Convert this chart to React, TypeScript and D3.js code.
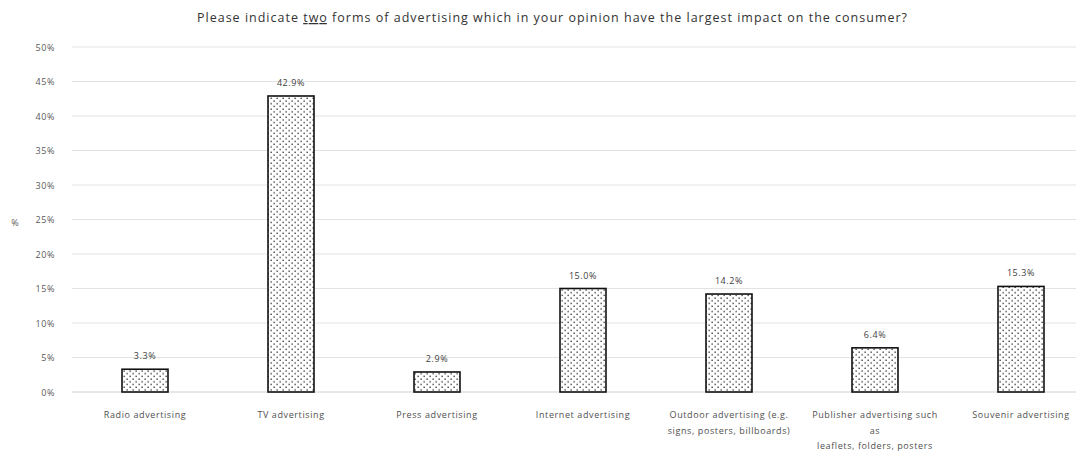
import React from "react";
import * as d3 from "d3";

const categories: string[][] = [
  ["Radio advertising"],
  ["TV advertising"],
  ["Press advertising"],
  ["Internet advertising"],
  ["Outdoor advertising (e.g.", "signs, posters, billboards)"],
  ["Publisher advertising such", "as", "leaflets, folders, posters"],
  ["Souvenir advertising"],
];
const values: number[] = [3.3, 42.9, 2.9, 15.0, 14.2, 6.4, 15.3];
const yTicks: number[] = [0, 5, 10, 15, 20, 25, 30, 35, 40, 45, 50];
const titleParts: string[] = ["Please indicate ", "two", " forms of advertising which in your opinion  have the largest impact  on the consumer?"];

export default function App() {
  const W = 1086, H = 452;
  const x0 = 72, x1 = 1094, gridEnd = 1076;
  const y = d3.scaleLinear().domain([0, 50]).range([392, 47]);
  const x = d3.scaleBand<number>().domain(values.map((_, i) => i)).range([x0, x1]).paddingInner(0.685).paddingOuter(0.3425);
  const font = "'Open Sans', 'Liberation Sans', sans-serif";
  const ls = 0.6;
  return (
    <svg width={W} height={H} style={{ position: "absolute", left: 0, top: 0, background: "#fff" }}>
      <defs>
        <pattern id="dots" width={6} height={5.4} patternUnits="userSpaceOnUse">
          <rect width={6} height={5.4} fill="#fff" />
          <rect x={0.5} y={0.5} width={1.3} height={1.3} fill="#2a2a2a" />
          <rect x={3.5} y={3.2} width={1.3} height={1.3} fill="#2a2a2a" />
        </pattern>
      </defs>
      <text x={197} y={22} textLength={710} lengthAdjust="spacing" fontFamily={font} fontSize={12.5} fontWeight={500} fill="#333">
        <tspan>{titleParts[0]}</tspan>
        <tspan textDecoration="underline">{titleParts[1]}</tspan>
        <tspan>{titleParts[2]}</tspan>
      </text>
      {yTicks.map((t) => (
        <g key={t}>
          <line x1={x0} x2={gridEnd} y1={y(t)} y2={y(t)} stroke={t === 0 ? "#d0d0d0" : "#e3e3e3"} strokeWidth={1} />
          <text x={55} y={y(t) + 3.5} textAnchor="end" fontFamily={font} fontSize={9} letterSpacing={ls} fill="#595959">{t}%</text>
        </g>
      ))}
      <text x={15} y={226} textAnchor="middle" fontFamily={font} fontSize={9} fill="#595959">%</text>
      {values.map((v, i) => {
        const bx = x(i)!;
        const bw = x.bandwidth();
        const cx = bx + bw / 2;
        return (
          <g key={i}>
            <rect x={bx} y={y(v)} width={bw} height={y(0) - y(v)} fill="url(#dots)" stroke="#111" strokeWidth={1.6} />
            <text x={cx} y={y(v) - 10} textAnchor="middle" fontFamily={font} fontSize={9} letterSpacing={ls} fill="#404040">{v.toFixed(1)}%</text>
            <text x={cx} y={418} textAnchor="middle" fontFamily={font} fontSize={9} letterSpacing={ls} fill="#4f4f4f">
              {categories[i].map((line, j) => (
                <tspan key={j} x={cx} dy={j === 0 ? 0 : 15.5}>{line}</tspan>
              ))}
            </text>
          </g>
        );
      })}
    </svg>
  );
}
